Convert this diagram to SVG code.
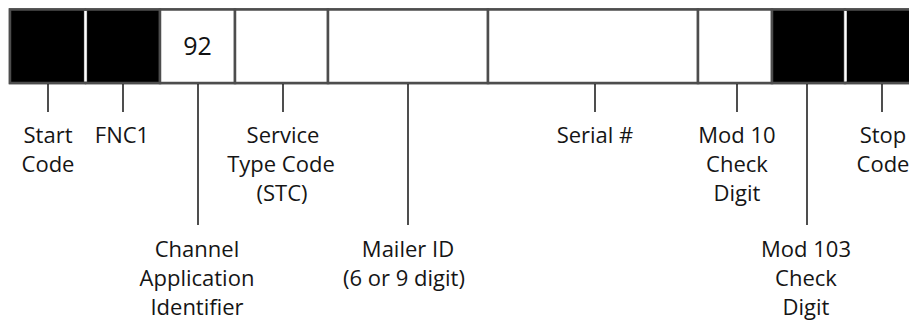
<svg xmlns="http://www.w3.org/2000/svg" width="909" height="320" viewBox="0 0 909 320">
<style>
.cell{fill:#fff;stroke:#4d4d4d;stroke-width:2.5}
.blk{fill:#000}
.gap{stroke:#fff;stroke-width:2.5}
.tick{stroke:#222;stroke-width:1.6;fill:none}
.lbl{font-family:"Open Sans","Noto Sans",sans-serif;font-size:22px;fill:#151515;text-anchor:middle}
.val{font-family:"Open Sans","Noto Sans",sans-serif;font-size:25px;fill:#111;text-anchor:middle}
</style>
<rect width="909" height="320" fill="#fff"/>
<g id="bar">
<rect class="cell" x="10" y="9.5" width="905" height="73.5"/>
</g>
<g id="start"><rect class="cell blk" x="10" y="9.5" width="75" height="73.5"/></g>
<g id="fnc1"><rect class="cell blk" x="86" y="9.5" width="74" height="73.5"/></g>
<g id="ai"><rect class="cell" x="160" y="9.5" width="75" height="73.5"/><text class="val" x="197.5" y="55">92</text></g>
<g id="stc"><rect class="cell" x="235" y="9.5" width="93" height="73.5"/></g>
<g id="mailer"><rect class="cell" x="328" y="9.5" width="160" height="73.5"/></g>
<g id="serial"><rect class="cell" x="488" y="9.5" width="210" height="73.5"/></g>
<g id="mod10"><rect class="cell" x="698" y="9.5" width="74" height="73.5"/></g>
<g id="mod103"><rect class="cell blk" x="772" y="9.5" width="73" height="73.5"/></g>
<g id="stop"><rect class="cell blk" x="845" y="9.5" width="70" height="73.5"/></g>
<g id="gaps">
<line class="gap" x1="85.5" y1="11" x2="85.5" y2="81.5"/>
<line class="gap" x1="845.5" y1="11" x2="845.5" y2="81.5"/>
</g>
<g id="connectors">
<line class="tick" x1="48" y1="84" x2="48" y2="112"/>
<line class="tick" x1="123" y1="84" x2="123" y2="112"/>
<line class="tick" x1="198" y1="84" x2="198" y2="225"/>
<line class="tick" x1="283" y1="84" x2="283" y2="112"/>
<line class="tick" x1="408" y1="84" x2="408" y2="225"/>
<line class="tick" x1="595" y1="84" x2="595" y2="112"/>
<line class="tick" x1="737" y1="84" x2="737" y2="112"/>
<line class="tick" x1="807" y1="84" x2="807" y2="225"/>
<line class="tick" x1="882" y1="84" x2="882" y2="112"/>
</g>
<g id="labels">
<text class="lbl" x="48" y="143">Start</text>
<text class="lbl" x="48" y="172">Code</text>
<text class="lbl" x="122" y="143">FNC1</text>
<text class="lbl" x="283" y="143">Service</text>
<text class="lbl" x="281" y="172">Type Code</text>
<text class="lbl" x="282" y="201">(STC)</text>
<text class="lbl" x="197" y="257">Channel</text>
<text class="lbl" x="197" y="286">Application</text>
<text class="lbl" x="197" y="315">Identifier</text>
<text class="lbl" x="408" y="257">Mailer ID</text>
<text class="lbl" x="404" y="286">(6 or 9 digit)</text>
<text class="lbl" x="595" y="143">Serial #</text>
<text class="lbl" x="737" y="143">Mod 10</text>
<text class="lbl" x="737" y="172">Check</text>
<text class="lbl" x="737" y="201">Digit</text>
<text class="lbl" x="806" y="257">Mod 103</text>
<text class="lbl" x="806" y="286">Check</text>
<text class="lbl" x="806" y="315">Digit</text>
<text class="lbl" x="883" y="143">Stop</text>
<text class="lbl" x="883" y="172">Code</text>
</g>
</svg>
